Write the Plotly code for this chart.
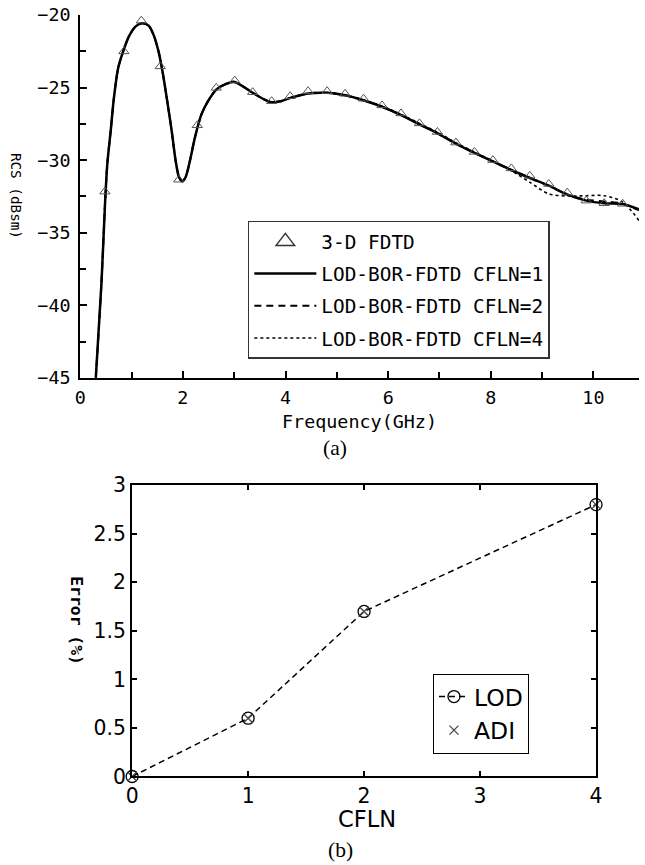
import plotly.graph_objects as go

# ---------------- data: panel (a) ----------------
freq_ghz = [0.303, 0.413, 0.483, 0.527, 0.593, 0.656, 0.739, 0.836, 0.946, 1.075,
            1.203, 1.332, 1.429, 1.525, 1.602, 1.685, 1.782, 1.859, 1.925, 1.988,
            2.052, 2.137, 2.234, 2.361, 2.490, 2.651, 2.844, 3.006, 3.359, 3.585,
            3.726, 3.905, 4.098, 4.440, 4.807, 5.160, 5.515, 5.882, 6.255, 6.608,
            6.963, 7.317, 7.683, 8.037, 8.398, 8.764, 9.131, 9.492, 9.859, 10.212,
            10.566, 10.888]

rcs_cfln1 = [-45.0, -38.49, -32.97, -30.27, -27.99, -25.71, -23.65, -22.51, -21.49, -20.80,
             -20.57, -20.73, -21.37, -22.51, -23.88, -25.71, -27.99, -30.05, -31.18, -31.46,
             -31.18, -30.05, -28.45, -26.85, -25.94, -25.14, -24.75, -24.61, -25.36, -25.82,
             -26.01, -25.94, -25.71, -25.41, -25.36, -25.53, -25.87, -26.32, -26.90, -27.53,
             -28.15, -28.86, -29.50, -30.09, -30.68, -31.23, -31.76, -32.38, -32.79, -32.97,
             -33.03, -33.39]

rcs_cfln2 = [-45.0, -38.49, -32.97, -30.27, -27.99, -25.71, -23.65, -22.51, -21.49, -20.80,
             -20.57, -20.73, -21.37, -22.51, -23.88, -25.71, -27.99, -30.05, -31.18, -31.46,
             -31.18, -30.05, -28.45, -26.85, -25.94, -25.14, -24.75, -24.61, -25.36, -25.82,
             -26.01, -25.94, -25.71, -25.41, -25.36, -25.53, -25.87, -26.32, -26.90, -27.53,
             -28.15, -28.86, -29.50, -30.09, -30.68, -31.23, -31.76, -32.36, -32.72, -32.85,
             -33.00, -33.45]

rcs_cfln4 = [-45.0, -38.49, -32.97, -30.27, -27.99, -25.71, -23.65, -22.51, -21.49, -20.80,
             -20.57, -20.73, -21.37, -22.51, -23.88, -25.71, -27.99, -30.05, -31.18, -31.46,
             -31.18, -30.05, -28.45, -26.85, -25.94, -25.14, -24.75, -24.61, -25.36, -25.82,
             -26.01, -25.94, -25.71, -25.41, -25.36, -25.53, -25.85, -26.28, -26.85, -27.47,
             -28.08, -28.80, -29.45, -30.05, -30.72, -31.53, -32.33, -32.47, -32.45, -32.45,
             -32.88, -34.16]

fdtd_freq = [0.48, 0.85, 1.19, 1.56, 1.92, 2.28, 2.65, 3.01, 3.36, 3.73,
             4.09, 4.44, 4.81, 5.16, 5.52, 5.88, 6.25, 6.61, 6.96, 7.32,
             7.68, 8.04, 8.40, 8.76, 9.13, 9.49, 9.86, 10.21, 10.57]
fdtd_rcs = [-32.17, -22.51, -20.39, -23.54, -31.35, -27.60, -25.02, -24.52, -25.32, -25.94,
            -25.60, -25.25, -25.25, -25.43, -25.77, -26.23, -26.78, -27.47, -28.06, -28.79,
            -29.43, -30.00, -30.57, -31.08, -31.64, -32.24, -32.79, -32.97, -33.01]

# ---------------- data: panel (b) ----------------
cfln_values = [0, 1, 2, 4]
lod_error = [0.0, 0.6, 1.7, 2.8]
adi_error = [0.0, 0.6, 1.7, 2.8]

W, H = 645, 865
K, OFF = 0.978, 7.0          # observed photo scaling of the page
def fpx(t):
    return (t - OFF) / K
def px(x):
    return fpx(x) / W
def py(y):
    return 1 - fpx(y) / H
def fs(s):
    return round(s / K, 1)

MONO = "DejaVu Sans Mono"
SANS = "DejaVu Sans"

fig = go.Figure()

# panel (a) curves
fig.add_trace(go.Scatter(x=freq_ghz, y=rcs_cfln1, mode="lines", name="LOD-BOR-FDTD CFLN=1",
                         line=dict(color="black", width=2.5, shape="spline", smoothing=0.8),
                         xaxis="x", yaxis="y", legend="legend", legendrank=2, legendgroup="g2"))
fig.add_trace(go.Scatter(x=freq_ghz, y=rcs_cfln2, mode="lines", name="LOD-BOR-FDTD CFLN=2",
                         line=dict(color="black", width=2, dash="7px,5px", shape="spline", smoothing=0.8),
                         xaxis="x", yaxis="y", legend="legend", legendrank=3, legendgroup="g3"))
fig.add_trace(go.Scatter(x=freq_ghz, y=rcs_cfln4, mode="lines", name="LOD-BOR-FDTD CFLN=4",
                         line=dict(color="black", width=1.6, dash="dot", shape="spline", smoothing=0.8),
                         xaxis="x", yaxis="y", legend="legend", legendrank=4, legendgroup="g4"))
fig.add_trace(go.Scatter(x=fdtd_freq, y=fdtd_rcs, mode="markers", name="3-D FDTD",
                         marker=dict(symbol="triangle-up-open", size=9, color="#555",
                                     line=dict(width=1, color="#555")),
                         xaxis="x", yaxis="y", showlegend=False))
# legend proxy with a large triangle (no data drawn)
fig.add_trace(go.Scatter(x=[None], y=[None], mode="markers", name="3-D FDTD",
                         marker=dict(symbol="triangle-up-open", size=24, color="#333",
                                     line=dict(width=1.5, color="#333")),
                         xaxis="x", yaxis="y", legend="legend", legendrank=1, legendgroup="g1"))

# panel (b)
fig.add_trace(go.Scatter(x=cfln_values, y=lod_error, mode="lines+markers", name="LOD",
                         line=dict(color="black", width=1.5, dash="6px,4px"),
                         marker=dict(symbol="circle-open", size=12, color="black",
                                     line=dict(width=1.3, color="black")),
                         cliponaxis=False, xaxis="x2", yaxis="y2", legend="legend2"))
fig.add_trace(go.Scatter(x=cfln_values, y=adi_error, mode="markers", name="ADI",
                         marker=dict(symbol="x-thin-open", size=9, color="#444",
                                     line=dict(width=1.3, color="#444")),
                         cliponaxis=False, xaxis="x2", yaxis="y2", legend="legend2"))

axis_common = dict(showgrid=False, zeroline=False, showline=True, linecolor="black",
                   linewidth=2, ticks="inside", tickcolor="black")

def ann(text, x, y, size, family, angle=0):
    return dict(text=text, x=px(x), y=py(y), xref="paper", yref="paper",
                xanchor="center", yanchor="middle", showarrow=False, textangle=angle,
                font=dict(family=family, size=fs(size), color="black"))

fig.update_layout(
    width=W, height=H,
    margin=dict(l=0, r=0, t=0, b=0),
    paper_bgcolor="white", plot_bgcolor="white",
    xaxis=dict(**axis_common, domain=[px(81), 1.0], range=[0, (fpx(W) - fpx(81)) / (fpx(132.8) - fpx(81))],
               anchor="y", tick0=0, dtick=2, ticklen=7, tickwidth=2,
               minor=dict(dtick=1, ticks="inside", ticklen=6, tickwidth=2, tickcolor="black"),
               tickfont=dict(family=MONO, size=fs(18), color="black"), ticklabelstandoff=2),
    yaxis=dict(**axis_common, domain=[py(375), py(10)], range=[-45, -20], anchor="x",
               tick0=-45, dtick=5, ticklen=7, tickwidth=2,
               minor=dict(dtick=2.5, ticks="inside", ticklen=6, tickwidth=2, tickcolor="black"),
               tickfont=dict(family=MONO, size=fs(18), color="black"), ticklabelstandoff=4),
    xaxis2=dict(**axis_common, domain=[px(132.7), px(595)], range=[0, 4], anchor="y2",
                mirror="ticks", dtick=1, ticklen=5, tickwidth=1.5,
                tickfont=dict(family=SANS, size=fs(20), color="black")),
    yaxis2=dict(**axis_common, domain=[py(776), py(483)], range=[0, 3], anchor="x2",
                mirror="ticks", dtick=0.5, ticklen=5, tickwidth=1.5,
                tickfont=dict(family=SANS, size=fs(20), color="black")),
    legend=dict(x=px(248), y=py(217), xanchor="left", yanchor="top",
                bgcolor="white", bordercolor="#333", borderwidth=1.5,
                font=dict(family=MONO, size=fs(19), color="black"),
                itemwidth=62, tracegroupgap=4, traceorder="grouped"),
    legend2=dict(x=px(432.5), y=py(672.7), xanchor="left", yanchor="top",
                 bgcolor="white", bordercolor="black", borderwidth=1,
                 font=dict(family=SANS, size=fs(23), color="black"),
                 itemwidth=30, traceorder="normal"),
    showlegend=True,
    annotations=[
        ann("Frequency(GHz)", 359, 419, 18, MONO),
        ann("RCS (dBsm)", 17, 192, 14, MONO, 90),
        ann("(a)", 335, 446, 21, "Liberation Serif"),
        ann("CFLN", 367, 819, 22, SANS),
        ann("<b>Error (%)</b>", 77, 619, 16, MONO, 90),
        ann("(b)", 340, 850, 21, "Liberation Serif"),
    ],
)

fig.write_html("out.html", config={"displayModeBar": False},
               post_script="document.body.style.margin='0';")
